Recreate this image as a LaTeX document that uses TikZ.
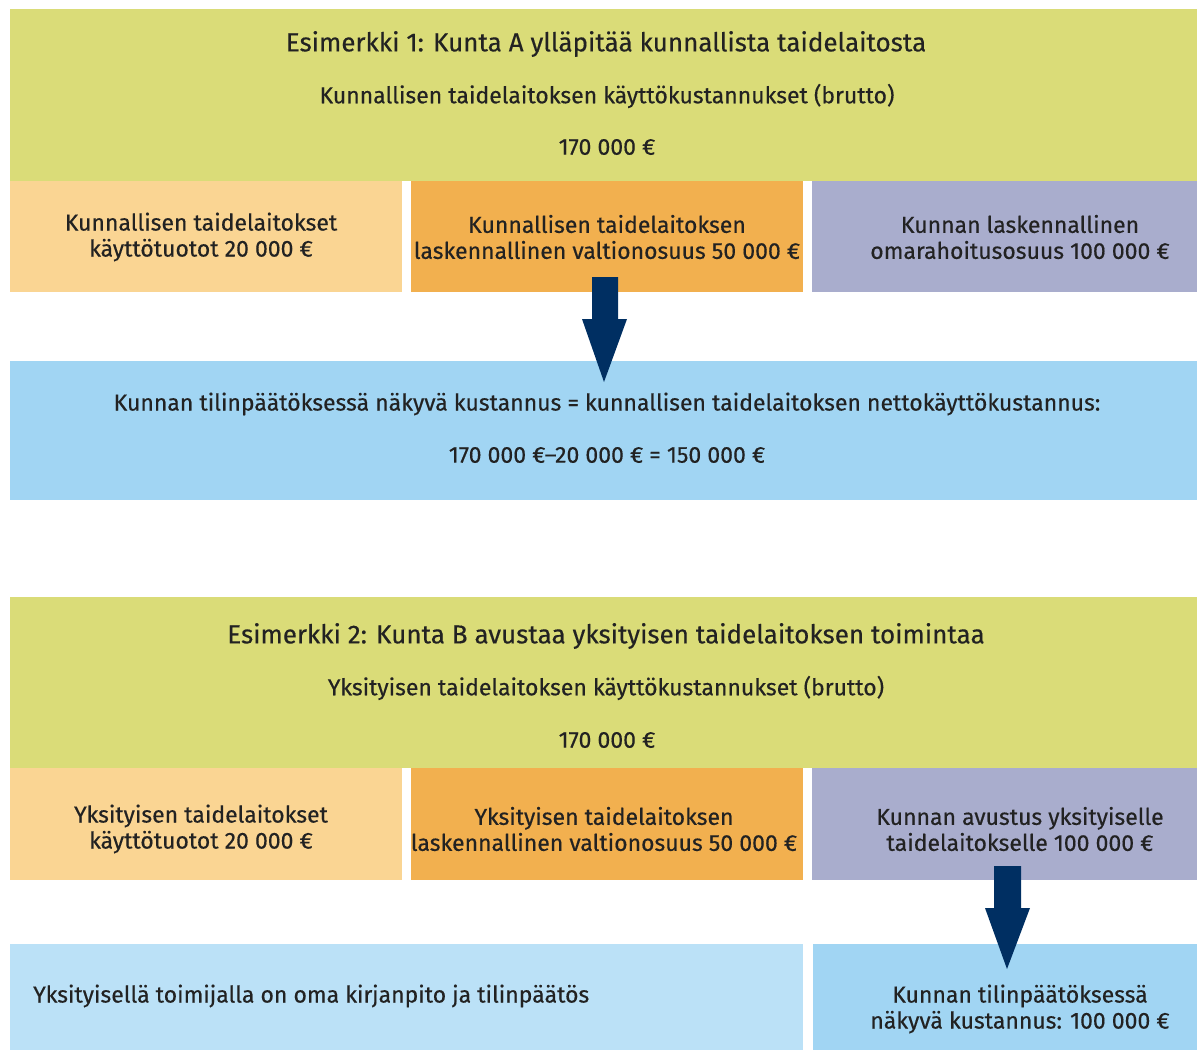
\documentclass[tikz,border=0pt]{standalone}
\usepackage{fontspec}
\setmainfont{Fira Sans}[FakeBold=0.4]
\definecolor{cgreen}{HTML}{DADC78}
\definecolor{clorange}{HTML}{FAD593}
\definecolor{corange}{HTML}{F2B04F}
\definecolor{clav}{HTML}{A9ADCD}
\definecolor{cblue}{HTML}{A1D5F3}
\definecolor{clblue}{HTML}{BBE1F7}
\definecolor{cnavy}{HTML}{002F62}
\definecolor{ctext}{HTML}{222222}
\begin{document}
\begin{tikzpicture}[x=1pt,y=-1pt,
  txt/.style={text=ctext,inner sep=0pt,align=center,font=\fontsize{23}{26}\selectfont},
  ttl/.style={text=ctext,inner sep=0pt,align=center,font=\fontsize{26}{28}\selectfont},
  bigarrow/.style={fill=cnavy,draw=none}]
\useasboundingbox (0,0) rectangle (1197,1050);
% ---------- Example 1 ----------
\fill[cgreen] (10,9) rectangle (1197,181);
\fill[clorange] (10,181) rectangle (402,292);
\fill[corange] (411,181) rectangle (803,292);
\fill[clav] (812,181) rectangle (1197,292);
\fill[cblue] (10,361) rectangle (1197,500);
\node[ttl] (t1) at (606,44) {Esimerkki 1: Kunta A ylläpitää kunnallista taidelaitosta};
\node[txt] (s1) at (607,96) {Kunnallisen taidelaitoksen käyttökustannukset (brutto)};
\node[txt] (v1) at (607,147) {170 000 €};
\node[txt] (a1) at (201,237) {Kunnallisen taidelaitokset\\käyttötuotot 20 000 €};
\node[txt] (b1) at (607,237) {Kunnallisen taidelaitoksen\\laskennallinen valtionosuus 50 000 €};
\node[txt] (c1) at (1020,237) {Kunnan laskennallinen\\omarahoitusosuus 100 000 €};
\node[txt] (d1) at (607,404) {Kunnan tilinpäätöksessä näkyvä kustannus = kunnallisen taidelaitoksen nettokäyttökustannus:};
\node[txt] (e1) at (607,455) {170 000 €–20 000 € = 150 000 €};
\fill[bigarrow] (592,277) -- (618,277) -- (618,319) -- (627,319) -- (604,382) -- (582,319) -- (592,319) -- cycle;
% ---------- Example 2 ----------
\fill[cgreen] (10,597) rectangle (1197,768);
\fill[clorange] (10,768) rectangle (402,880);
\fill[corange] (411,768) rectangle (803,880);
\fill[clav] (812,768) rectangle (1197,880);
\fill[clblue] (10,944) rectangle (803,1050);
\fill[cblue] (813,944) rectangle (1197,1050);
\node[ttl] (t2) at (606,636) {Esimerkki 2: Kunta B avustaa yksityisen taidelaitoksen toimintaa};
\node[txt] (s2) at (606,688) {Yksityisen taidelaitoksen käyttökustannukset (brutto)};
\node[txt] (v2) at (607,740) {170 000 €};
\node[txt] (a2) at (201,829) {Yksityisen taidelaitokset\\käyttötuotot 20 000 €};
\node[txt] (b2) at (604,829) {Yksityisen taidelaitoksen\\laskennallinen valtionosuus 50 000 €};
\node[txt] (c2) at (1020,829) {Kunnan avustus yksityiselle\\taidelaitokselle 100 000 €};
\node[txt,anchor=west] (d2) at (33,996) {Yksityisellä toimijalla on oma kirjanpito ja tilinpäätös};
\node[txt] (e2) at (1020,1009) {Kunnan tilinpäätöksessä\\näkyvä kustannus: 100 000 €};
\fill[bigarrow] (994,866) -- (1021,866) -- (1021,908) -- (1030,908) -- (1007,969) -- (985,908) -- (994,908) -- cycle;
\end{tikzpicture}
\end{document}
